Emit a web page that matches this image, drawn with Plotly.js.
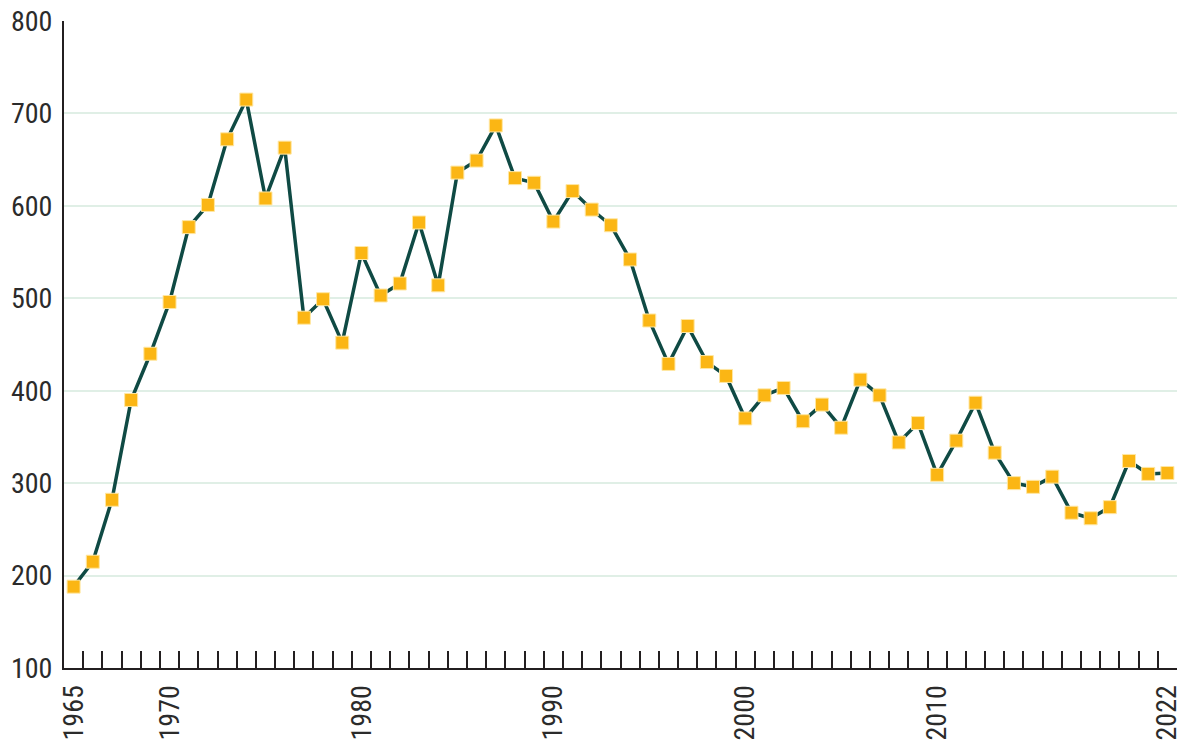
<!DOCTYPE html>
<html><head><meta charset="utf-8">
<script src="https://cdn.plot.ly/plotly-3.0.1.min.js"></script>
<style>html,body{margin:0;padding:0;background:#fff}#chart{width:1177px;height:742px}</style>
</head><body><div id="chart"></div>
<script>
const years = [];
for (let y = 1965; y <= 2022; y++) years.push(y);
const values = [188,215,282,390,440,496,577,601,672,715,
  608,663,479,499,452,549,503,516,582,514,
  636,649,687,630,625,583,616,596,579,542,
  476,429,470,431,416,370,395,403,367,385,
  360,412,395,344,365,309,346,387,333,300,
  296,307,268,262,274,324,310,311];
const xTickVals = [1965,1970,1980,1990,2000,2010,2022];
const xTickText = ['1965','1970','1980','1990','2000','2010','2022'];
const yTickVals = [100,200,300,400,500,600,700,800];
const boundaries = years.slice(0, -1).map(y => y + 0.5);

const font = "'Roboto Condensed', 'Liberation Sans Narrow', 'DejaVu Sans Condensed', Roboto, sans-serif";

Plotly.newPlot('chart', [{
  x: years, y: values, type: 'scatter', mode: 'lines+markers',
  line: {color: '#0f4a44', width: 3.5},
  marker: {symbol: 'square', size: 13, color: '#fbb614', line: {color: '#ffe7a3', width: 1}},
  cliponaxis: false, hoverinfo: 'x+y'
}], {
  width: 1177, height: 742,
  margin: {l: 64, r: 0, t: 21, b: 74},
  paper_bgcolor: '#fff', plot_bgcolor: '#fff',
  showlegend: false,
  font: {family: font, color: '#2b2b2b', size: 28},
  xaxis: {
    range: [1964.5, 2022.5], tickmode: 'array', tickvals: xTickVals, ticktext: xTickText,
    tickangle: -90, ticks: '', showgrid: false, zeroline: false,
    showline: true, linecolor: '#231f20', linewidth: 2,
    ticklabeloverflow: 'allow', ticklabelstandoff: 4,
    tickfont: {family: font, size: 28, color: '#2b2b2b'},
    minor: {tickmode: 'array', tickvals: boundaries, ticks: 'inside', ticklen: 17, tickwidth: 2, tickcolor: '#231f20', showgrid: false}
  },
  yaxis: {
    range: [100, 800], tickmode: 'array', tickvals: yTickVals,
    ticks: '', showgrid: true, gridcolor: '#e0efe6', gridwidth: 2, zeroline: false,
    showline: true, linecolor: '#231f20', linewidth: 2, ticklabelstandoff: 4,
    tickfont: {family: font, size: 28, color: '#2b2b2b'}
  }
}, {displayModeBar: false, staticPlot: true});
</script>
</body></html>
